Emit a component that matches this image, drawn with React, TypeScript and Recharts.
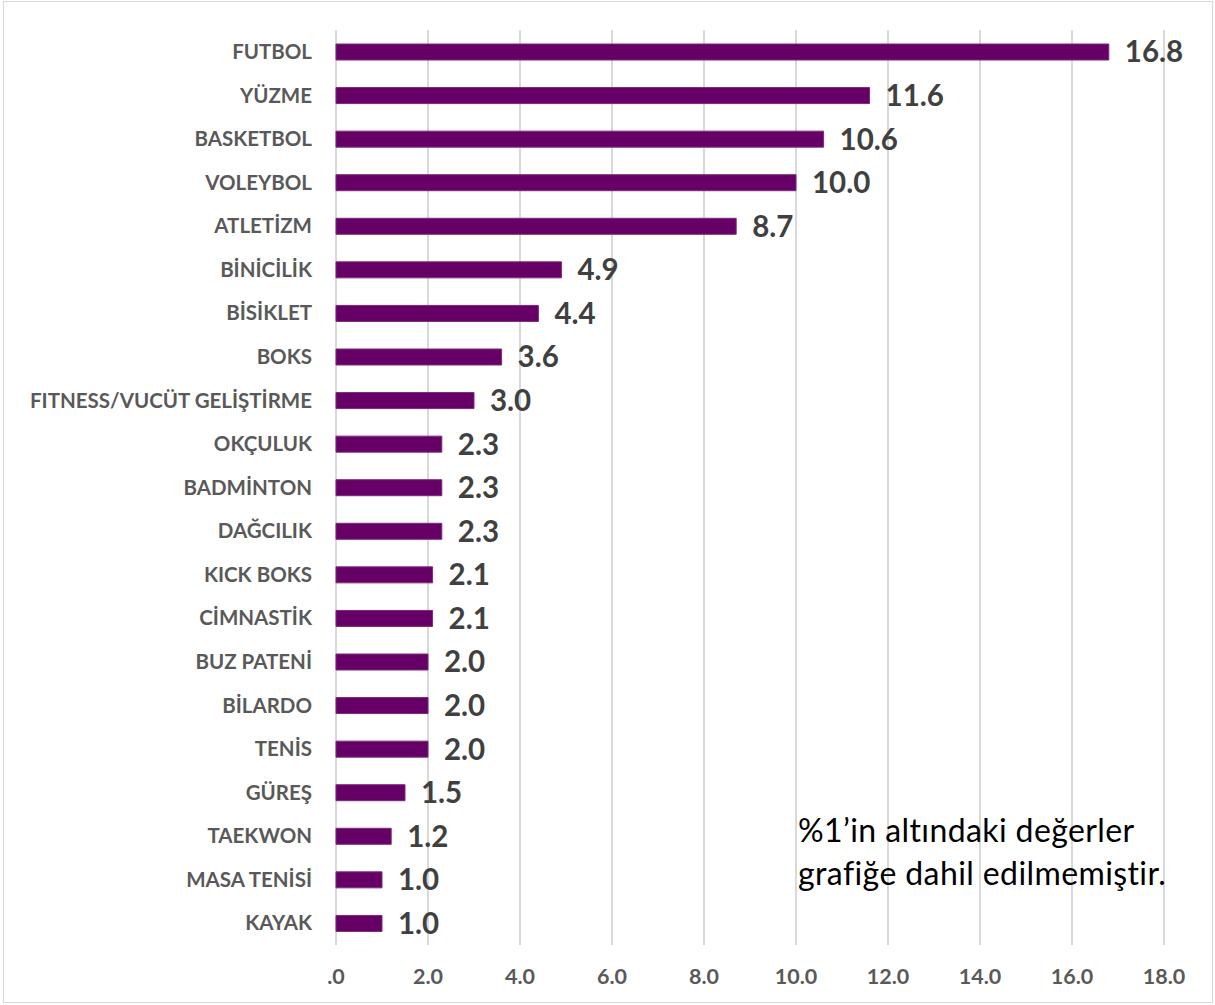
import React from "react";
import { BarChart, Bar, XAxis, YAxis, CartesianGrid, LabelList } from "recharts";

const categories = [
  "FUTBOL", "YÜZME", "BASKETBOL", "VOLEYBOL", "ATLETİZM", "BİNİCİLİK", "BİSİKLET", "BOKS",
  "FITNESS/VUCÜT GELİŞTİRME", "OKÇULUK", "BADMİNTON", "DAĞCILIK", "KICK BOKS", "CİMNASTİK",
  "BUZ PATENİ", "BİLARDO", "TENİS", "GÜREŞ", "TAEKWON", "MASA TENİSİ", "KAYAK",
];
const values = [16.8, 11.6, 10.6, 10.0, 8.7, 4.9, 4.4, 3.6, 3.0, 2.3, 2.3, 2.3, 2.1, 2.1, 2.0, 2.0, 2.0, 1.5, 1.2, 1.0, 1.0];
const xTicks = [0, 2, 4, 6, 8, 10, 12, 14, 16, 18];
const noteLines = ["%1’in altındaki değerler", "grafiğe dahil edilmemiştir."];

const data = categories.map((name, i) => ({ name, value: values[i] }));

const FONT = "Lato, 'Open Sans', sans-serif";

export default function App() {
  return (
    <div style={{ position: "absolute", left: 0, top: 0, width: 1215, height: 1005, background: "#fff" }}>
      <div style={{ position: "absolute", left: 3, top: 1, width: 1208, height: 1000, border: "1px solid #d9d9d9" }} />
      <BarChart
        width={1215}
        height={1005}
        data={data}
        layout="vertical"
        margin={{ top: 30, right: 51, bottom: 0, left: 0 }}
        barSize={16}
      >
        <CartesianGrid horizontal={false} stroke="#d9d9d9" strokeWidth={2} />
        <XAxis
          type="number"
          domain={[0, 18]}
          ticks={xTicks}
          interval={0}
          height={60}
          axisLine={false}
          tickLine={false}
          tickMargin={18}
          tickFormatter={(v: number) => (v === 0 ? ".0" : v.toFixed(1))}
          tick={{ fill: "#595959", fontSize: 21.5, fontWeight: 700, fontFamily: FONT }}
        />
        <YAxis
          type="category"
          dataKey="name"
          width={336}
          interval={0}
          axisLine={false}
          tickLine={false}
          tickMargin={18}
          tick={{ fill: "#595959", fontSize: 20.5, fontWeight: 700, fontFamily: FONT }}
        />
        <Bar dataKey="value" fill="#660066" stroke="#7a2a7a" strokeWidth={1} isAnimationActive={false}>
          <LabelList
            dataKey="value"
            position="right"
            offset={16}
            formatter={(v: number) => v.toFixed(1)}
            style={{ fill: "#404040", fontSize: 29.5, fontWeight: 700, fontFamily: FONT }}
          />
        </Bar>
      </BarChart>
      <div
        style={{
          position: "absolute",
          left: 798,
          top: 808,
          fontFamily: FONT,
          fontSize: 32,
          letterSpacing: 0.4,
          lineHeight: "43px",
          color: "#000",
          whiteSpace: "nowrap",
        }}
      >
        {noteLines.map((l) => (
          <div key={l}>{l}</div>
        ))}
      </div>
    </div>
  );
}
